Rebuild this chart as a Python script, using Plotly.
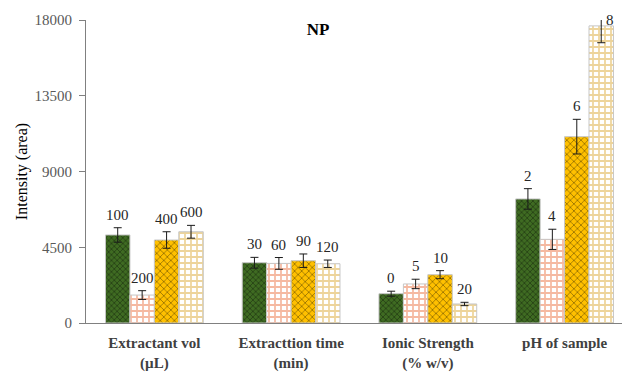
import plotly.graph_objects as go

# Optimisation parameters (x-axis groups)
categories = [
    "Extractant vol<br>(µL)",
    "Extracttion time<br>(min)",
    "Ionic Strength<br>(% w/v)",
    "pH of sample",
]

# Each trace holds the 1st..4th level tested for every parameter
level_labels = [
    ["100", "30", "0", "2"],
    ["200", "60", "5", "4"],
    ["400", "90", "10", "6"],
    ["600", "120", "20", "8"],
]
intensity = [
    [5230, 3580, 1740, 7370],
    [1660, 3540, 2320, 4970],
    [4930, 3700, 2870, 11070],
    [5420, 3520, 1130, 17650],
]
std_dev = [
    [430, 320, 150, 610],
    [260, 350, 280, 600],
    [490, 400, 240, 1030],
    [380, 220, 100, 1000],
]

y_ticks = [0, 4500, 9000, 13500, 18000]
y_tick_text = ["0", "4500", "9000", "13500", "18000"]
Y_MAX = 18000

patterns = [
    dict(shape="x", bgcolor="#3f6b22", fgcolor="#0f1a08", size=4, solidity=0.4),
    dict(shape="+", bgcolor="#ffffff", fgcolor="#eb7444", size=6, solidity=0.5),
    dict(shape="x", bgcolor="#ffc000", fgcolor="#2e2200", size=5, solidity=0.3),
    dict(shape="+", bgcolor="#ffffff", fgcolor="#dcaa38", size=6, solidity=0.5),
]

SERIF = "Liberation Serif"

fig = go.Figure()
n = len(intensity)
for i in range(n):
    fig.add_trace(go.Bar(
        x=categories,
        y=intensity[i],
        error_y=dict(type="data", array=std_dev[i], color="#1a1a1a",
                     thickness=1, width=4),
        marker=dict(color=patterns[i]["bgcolor"], pattern=patterns[i],
                    line=dict(color="#c6c6c6", width=1)),
        showlegend=False,
        hoverinfo="skip",
    ))

# Level labels above each error bar
group_width = 1 - 0.285
bar_w = group_width / n
for i in range(n):
    for j, cat in enumerate(categories):
        top = intensity[i][j] + std_dev[i][j]
        xpos = j - group_width / 2 + bar_w * (i + 0.5)
        if top > Y_MAX:
            fig.add_annotation(x=xpos, y=Y_MAX, text=level_labels[i][j],
                               showarrow=False, xanchor="left", yanchor="middle",
                               xshift=3, font=dict(family=SERIF, size=15, color="#262626"))
        else:
            fig.add_annotation(x=xpos, y=top, text=level_labels[i][j],
                               showarrow=False, yanchor="bottom", yshift=3,
                               font=dict(family=SERIF, size=15, color="#262626"))

fig.update_layout(
    width=622, height=373,
    margin=dict(l=86, r=0, t=20, b=50),
    paper_bgcolor="white", plot_bgcolor="white",
    barmode="group", bargap=0.285, bargroupgap=0.0,
    title=dict(text="<b>NP</b>", x=318 / 622, xanchor="center",
               y=1 - 29 / 373, yanchor="middle",
               font=dict(family=SERIF, size=17, color="#000000")),
    xaxis=dict(
        type="category", range=[-0.5, 3.42],
        showline=True, linecolor="#808080", linewidth=1,
        ticks="", showgrid=False, ticklabelstandoff=6,
        tickfont=dict(family=SERIF, size=15, color="#404040", weight="bold"),
    ),
    yaxis=dict(
        range=[0, Y_MAX], tickvals=y_ticks, ticktext=y_tick_text,
        showline=True, linecolor="#808080", linewidth=1,
        ticks="outside", ticklen=6, tickcolor="#808080",
        ticklabelstandoff=4,
        showgrid=False, zeroline=False,
        tickfont=dict(family=SERIF, size=15, color="#595959"),
        title=dict(text="Intensity (area)", standoff=2,
                   font=dict(family=SERIF, size=16, color="#000000")),
    ),
)

fig.write_html("out.html")
